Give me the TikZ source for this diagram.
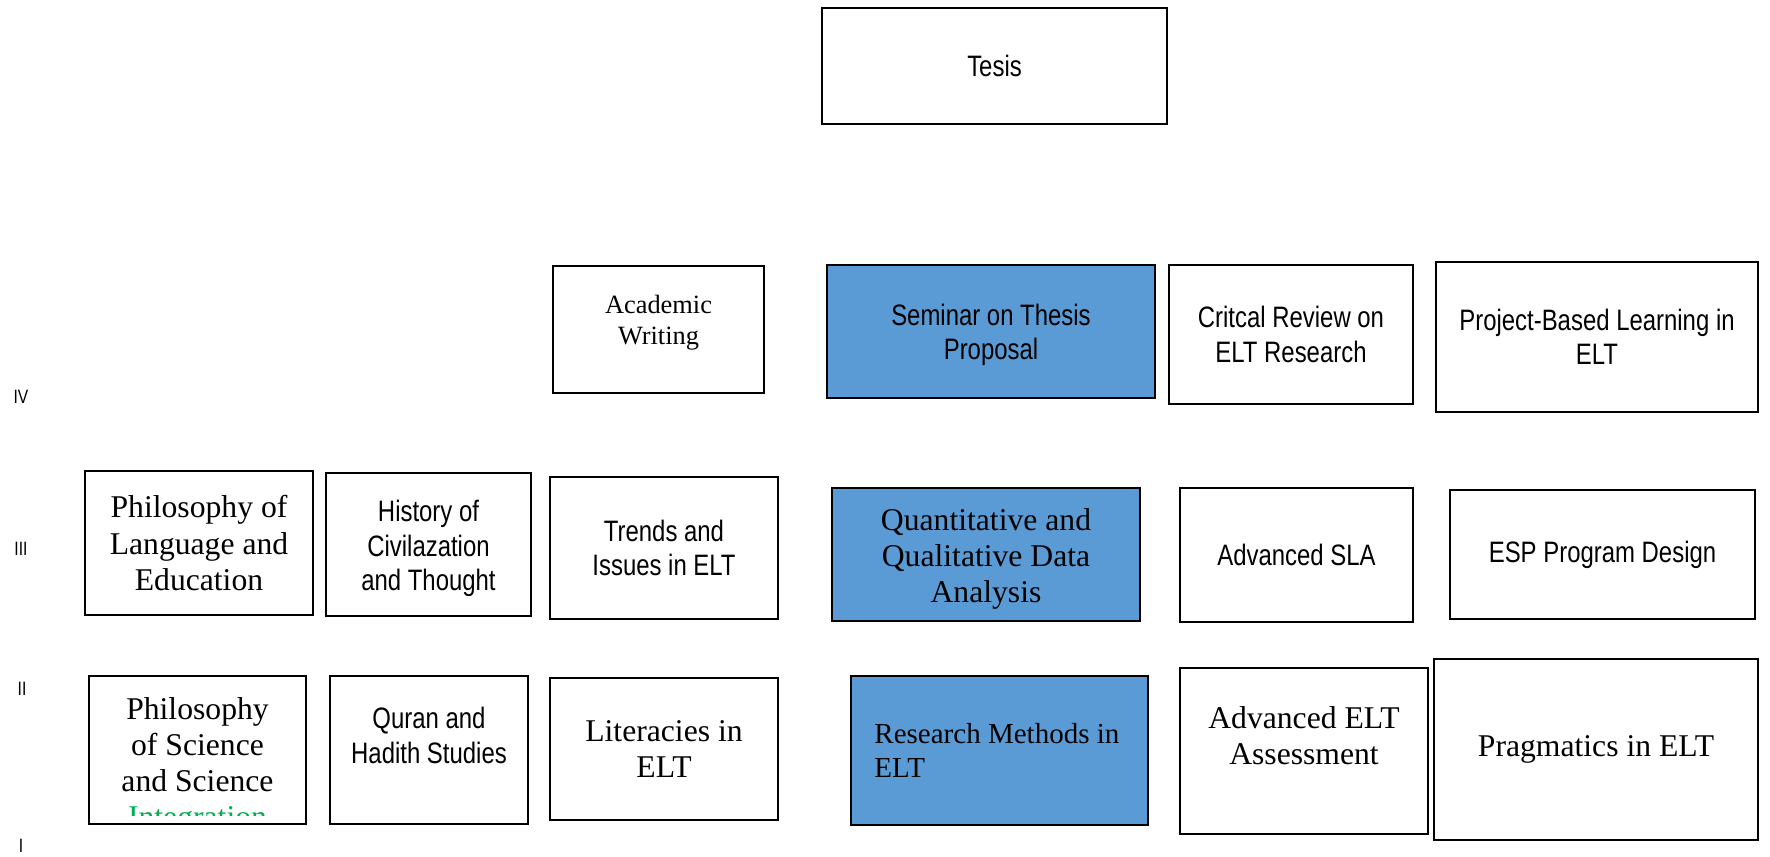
\documentclass[tikz,border=0pt]{standalone}
\usepackage{fontspec}
\setmainfont{Liberation Serif}
\setsansfont[FakeStretch=0.81]{Liberation Sans}
\definecolor{blueacc}{HTML}{5B9BD5}
\definecolor{greenacc}{HTML}{00B050}
% move the lines of a box up or down without changing the box
\newcommand\movetext[2]{\raisebox{#1}[\height][\depth]{\begin{tabular}{@{}c@{}}#2\end{tabular}}}
\begin{document}
\begin{tikzpicture}[x=0.01cm, y=-0.01cm,
    box/.style={draw, line width=0.75pt, align=center, inner sep=0pt},
    sans/.style={font=\sffamily\fontsize{8.4}{9.8}\selectfont},
    serif/.style={font=\rmfamily\fontsize{9}{10.3}\selectfont},
    core/.style={fill=blueacc},
    lvl/.style={font=\sffamily\fontsize{5.5}{6}\selectfont, inner sep=0pt}]
  \useasboundingbox (0,0) rectangle (1770,856);
  % semester labels
  \node[lvl] (l4) at (21,397) {IV};
  \node[lvl] (l3) at (21,549) {III};
  \node[lvl] (l2) at (22,689) {II};
  \node[lvl] (l1) at (21,846) {I};
  % top
  \node[box, sans, minimum width=3.45cm, minimum height=1.16cm] (tesis) at (994.5,66) {Tesis};
  % semester IV
  \node[box, font=\rmfamily\fontsize{7.5}{9}\selectfont, minimum width=2.11cm, minimum height=1.27cm] (aw) at (658.5,329.5) {\movetext{0.07cm}{Academic\\Writing}};
  \node[box, sans, core, minimum width=3.28cm, minimum height=1.33cm] (stp) at (991,331.5) {\movetext{-0.04cm}{Seminar on Thesis\\Proposal}};
  \node[box, sans, minimum width=2.44cm, minimum height=1.39cm] (cr) at (1291,334.5) {Critcal Review on\\ELT Research};
  \node[box, sans, minimum width=3.22cm, minimum height=1.50cm] (pbl) at (1597,337) {Project-Based Learning in\\ELT};
  % semester III
  \node[box, serif, minimum width=2.28cm, minimum height=1.44cm] (ple) at (199,543) {Philosophy of\\Language and\\Education};
  \node[box, sans, minimum width=2.05cm, minimum height=1.43cm] (hct) at (428.5,544.5) {\movetext{-0.05cm}{History of\\Civilazation\\and Thought}};
  \node[box, sans, minimum width=2.28cm, minimum height=1.42cm] (ti) at (664,548) {Trends and\\Issues in ELT};
  \node[box, serif, core, minimum width=3.08cm, minimum height=1.33cm] (qq) at (986,554.5) {\movetext{-0.05cm}{Quantitative and\\Qualitative Data\\Analysis}};
  \node[box, sans, minimum width=2.33cm, minimum height=1.34cm] (sla) at (1296.5,555) {Advanced SLA};
  \node[box, sans, minimum width=3.05cm, minimum height=1.29cm] (esp) at (1602.5,554.5) {ESP Program Design};
  % semester II
  \node[box, minimum width=2.17cm, minimum height=1.48cm] (ps) at (197.5,750) {};
  \begin{scope}
    \clip ([shift={(0.05cm,0.1cm)}]ps.south west) rectangle ([shift={(-0.05cm,-0.05cm)}]ps.north east);
    \node[serif, align=center, inner sep=0pt] (pstext) at (197.5,766) {Philosophy\\of Science\\and Science\\\textcolor{greenacc}{Integration}};
  \end{scope}
  \node[box, sans, minimum width=1.98cm, minimum height=1.48cm] (qh) at (429,750) {\movetext{0.11cm}{Quran and\\Hadith Studies}};
  \node[box, serif, minimum width=2.28cm, minimum height=1.42cm] (lit) at (664,749) {Literacies in\\ELT};
  \node[box, core, font=\rmfamily\fontsize{8.25}{9.5}\selectfont, align=flush left, text width=2.5cm, inner xsep=0.235cm, minimum height=1.49cm] (rm) at (999.5,750.5) {Research Methods in\\ELT};
  \node[box, serif, minimum width=2.48cm, minimum height=1.66cm] (ea) at (1304,751) {\movetext{0.12cm}{Advanced ELT\\Assessment}};
  \node[box, serif, minimum width=3.24cm, minimum height=1.81cm] (pr) at (1596,749.5) {Pragmatics in ELT};
\end{tikzpicture}
\end{document}
